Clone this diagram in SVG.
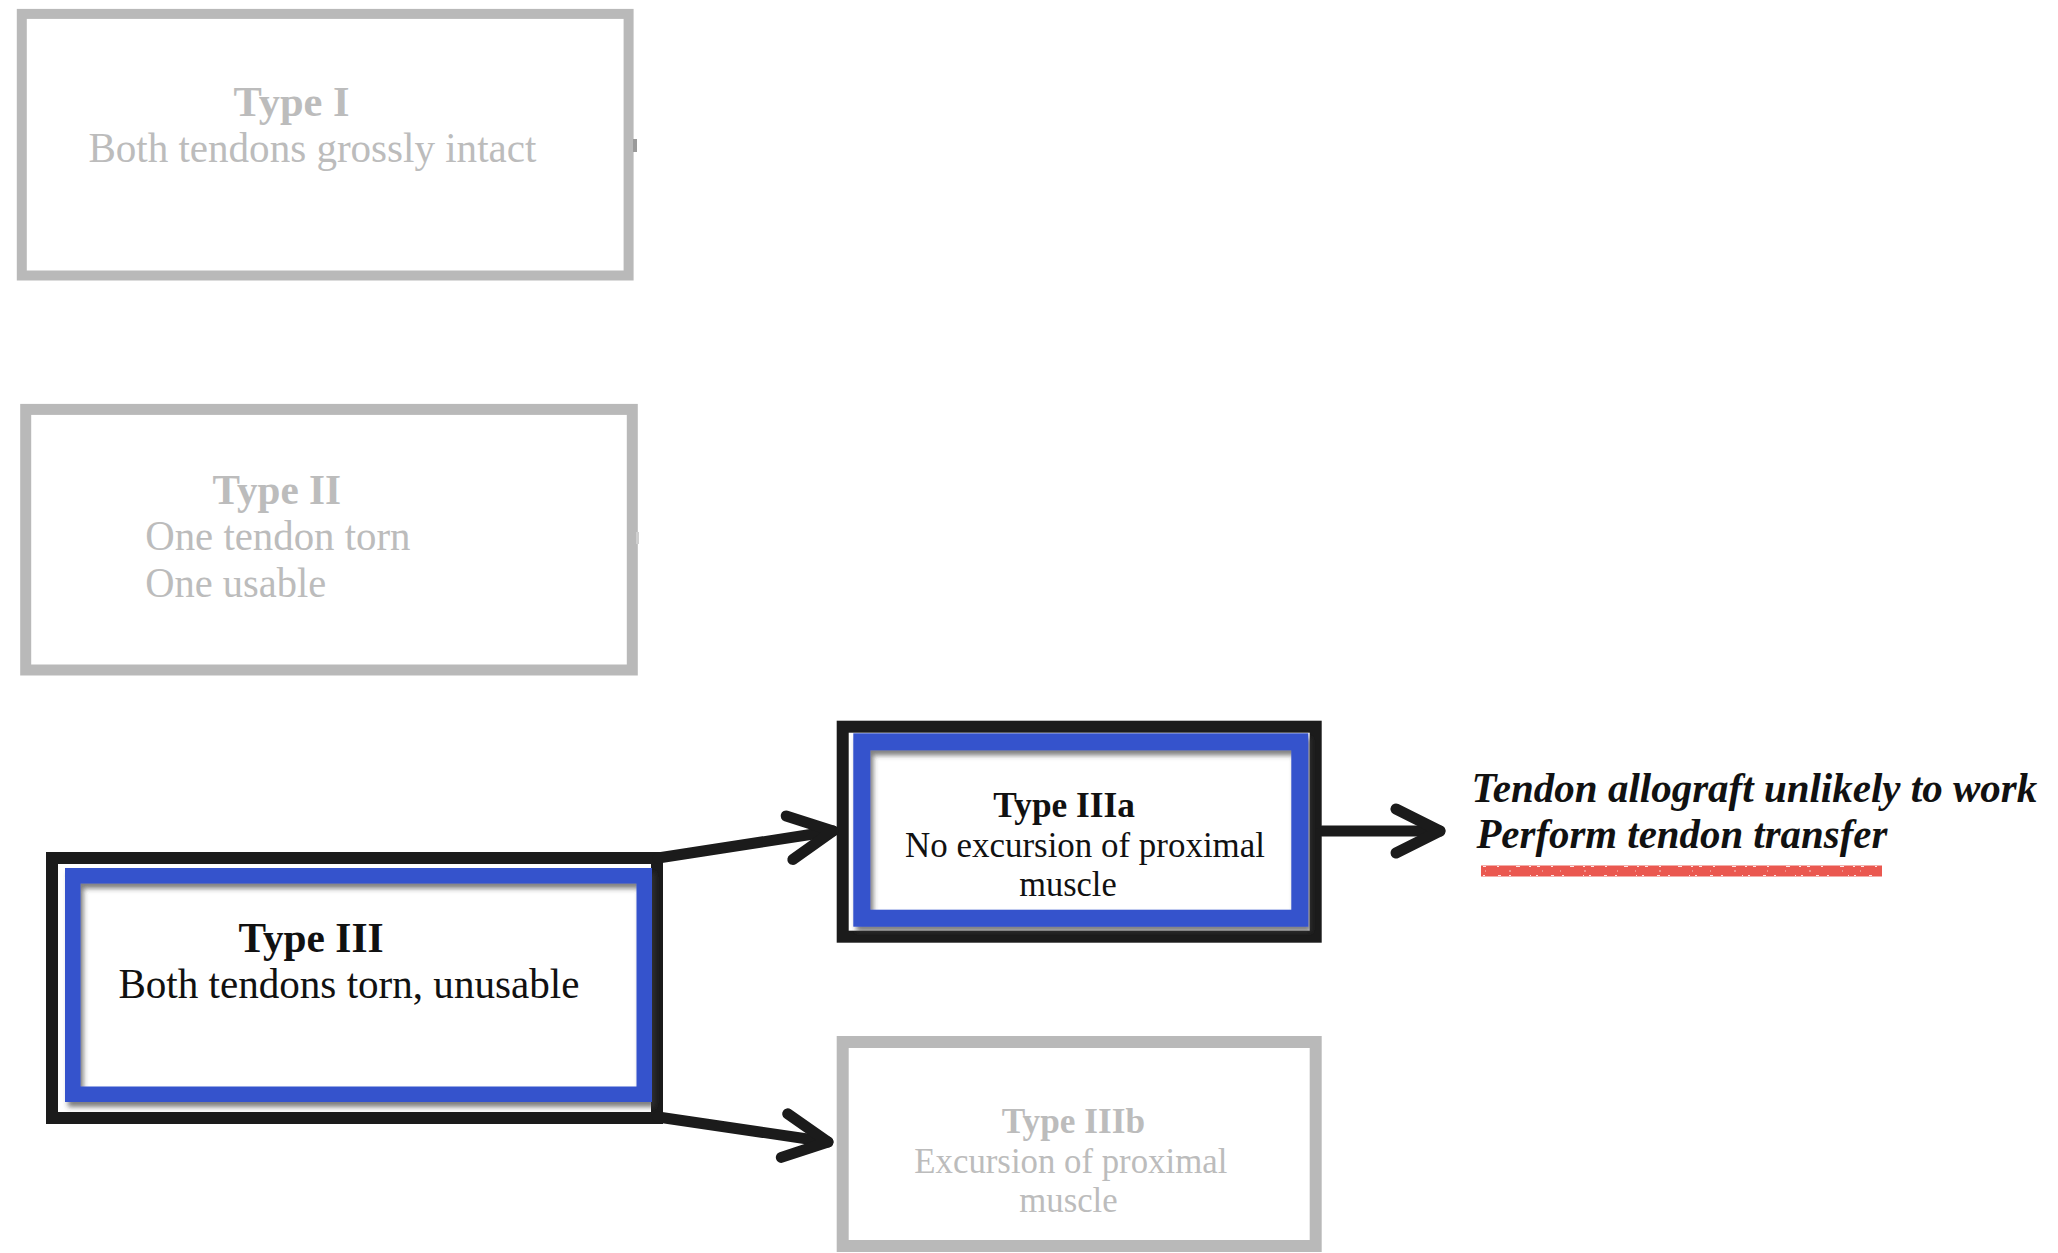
<svg xmlns="http://www.w3.org/2000/svg" width="2058" height="1253" viewBox="0 0 2058 1253">
<style>
.gbox{fill:#fff;stroke:#b9b9b9}
.bbox{fill:#fff;stroke:#1b1b1b;stroke-width:12}
.blue{fill:none;stroke:#3452cc}
.t{font-family:"Liberation Serif","Times New Roman",serif}
.gt{fill:#bcbcbc}
.kt{fill:#111}
.b{font-weight:bold}
.conn{fill:none;stroke:#1b1b1b;stroke-width:11;stroke-linecap:round}
</style>
<defs>
<marker id="chev" viewBox="-52 -30 60 60" markerWidth="60" markerHeight="60" refX="0" refY="0" orient="auto" markerUnits="userSpaceOnUse">
<path d="M-44,-22 L0,0 L-44,22" fill="none" stroke="#1b1b1b" stroke-width="11" stroke-linecap="round" stroke-linejoin="round"/>
</marker>
<filter id="sh" x="-10%" y="-10%" width="120%" height="130%">
<feDropShadow dx="3" dy="5" stdDeviation="2.5" flood-color="#3a3a3a" flood-opacity="0.65"/>
</filter>
</defs>
<rect width="2058" height="1253" fill="#fff"/>

<g id="type1">
<rect class="gbox" x="21.8" y="13.9" width="606.8" height="261.6" stroke-width="10"/>
<rect x="633" y="139" width="4" height="13" fill="#9a9a9a"/>
<text class="t gt b" x="233.6" y="115.5" font-size="42" textLength="116" lengthAdjust="spacingAndGlyphs">Type I</text>
<text class="t gt" x="88.4" y="162.4" font-size="42" textLength="448" lengthAdjust="spacingAndGlyphs">Both tendons grossly intact</text>
</g>

<g id="type2">
<rect class="gbox" x="25.7" y="409.4" width="606.6" height="260.6" stroke-width="11"/>
<rect x="636" y="532" width="3" height="12" fill="#cfcfcf"/>
<text class="t gt b" x="212.6" y="503.9" font-size="42" textLength="128.4" lengthAdjust="spacingAndGlyphs">Type II</text>
<text class="t gt" x="145.2" y="550" font-size="42" textLength="265.3" lengthAdjust="spacingAndGlyphs">One tendon torn</text>
<text class="t gt" x="145.2" y="597.2" font-size="42" textLength="181" lengthAdjust="spacingAndGlyphs">One usable</text>
</g>

<g id="type3">
<rect class="bbox" x="52" y="858" width="605" height="260"/>
<rect class="blue" x="72.75" y="875.75" width="571.5" height="218.5" stroke-width="15.5" filter="url(#sh)"/>
<text class="t kt b" x="238.4" y="952.2" font-size="42" textLength="145.2" lengthAdjust="spacingAndGlyphs">Type III</text>
<text class="t kt" x="118.4" y="998.4" font-size="42" textLength="461" lengthAdjust="spacingAndGlyphs">Both tendons torn, unusable</text>
</g>

<g id="type3a">
<rect class="bbox" x="842.7" y="726.7" width="473" height="210"/>
<rect class="blue" x="861.8" y="741.8" width="438" height="176.4" stroke-width="17" filter="url(#sh)"/>
<text class="t kt b" x="993.3" y="816.7" font-size="36" textLength="141.7" lengthAdjust="spacingAndGlyphs">Type IIIa</text>
<text class="t kt" x="905" y="856.5" font-size="36" textLength="360" lengthAdjust="spacingAndGlyphs">No excursion of proximal</text>
<text class="t kt" x="1019.3" y="896" font-size="36" textLength="97.4" lengthAdjust="spacingAndGlyphs">muscle</text>
</g>

<g id="type3b">
<rect class="gbox" x="842.7" y="1042" width="473" height="204" stroke-width="12"/>
<text class="t gt b" x="1001.7" y="1132.5" font-size="36" textLength="143.3" lengthAdjust="spacingAndGlyphs">Type IIIb</text>
<text class="t gt" x="914.3" y="1172.5" font-size="36" textLength="313" lengthAdjust="spacingAndGlyphs">Excursion of proximal</text>
<text class="t gt" x="1019.3" y="1211.5" font-size="36" textLength="98.4" lengthAdjust="spacingAndGlyphs">muscle</text>
</g>

<g id="outcome">
<text class="t kt b" font-style="italic" x="1471.6" y="801.7" font-size="42" textLength="565.6" lengthAdjust="spacingAndGlyphs">Tendon allograft unlikely to work</text>
<text class="t kt b" font-style="italic" x="1476.4" y="848" font-size="42" textLength="410.9" lengthAdjust="spacingAndGlyphs">Perform tendon transfer</text>
<path d="M1481,871 L1882,871" fill="none" stroke="#ea5850" stroke-width="11"/>
<path d="M1483,866.5 L1880,866.5" fill="none" stroke="#fff" stroke-width="1.2" stroke-dasharray="3 11 2 17 4 9 2 6" opacity="0.85"/>
<path d="M1485,871 L1878,871" fill="none" stroke="#fff" stroke-width="1" stroke-dasharray="1 23 2 31 1 17" opacity="0.7"/>
<path d="M1483,875.5 L1880,875.5" fill="none" stroke="#fff" stroke-width="1.2" stroke-dasharray="2 13 3 8 2 19 1 5" opacity="0.85"/>
</g>

<g id="connectors">
<path class="conn" d="M658,858 L833,831" marker-end="url(#chev)"/>
<path class="conn" d="M658,1117 L828,1142" marker-end="url(#chev)"/>
<path class="conn" d="M1322,831 L1440,831" marker-end="url(#chev)"/>
</g>
</svg>
